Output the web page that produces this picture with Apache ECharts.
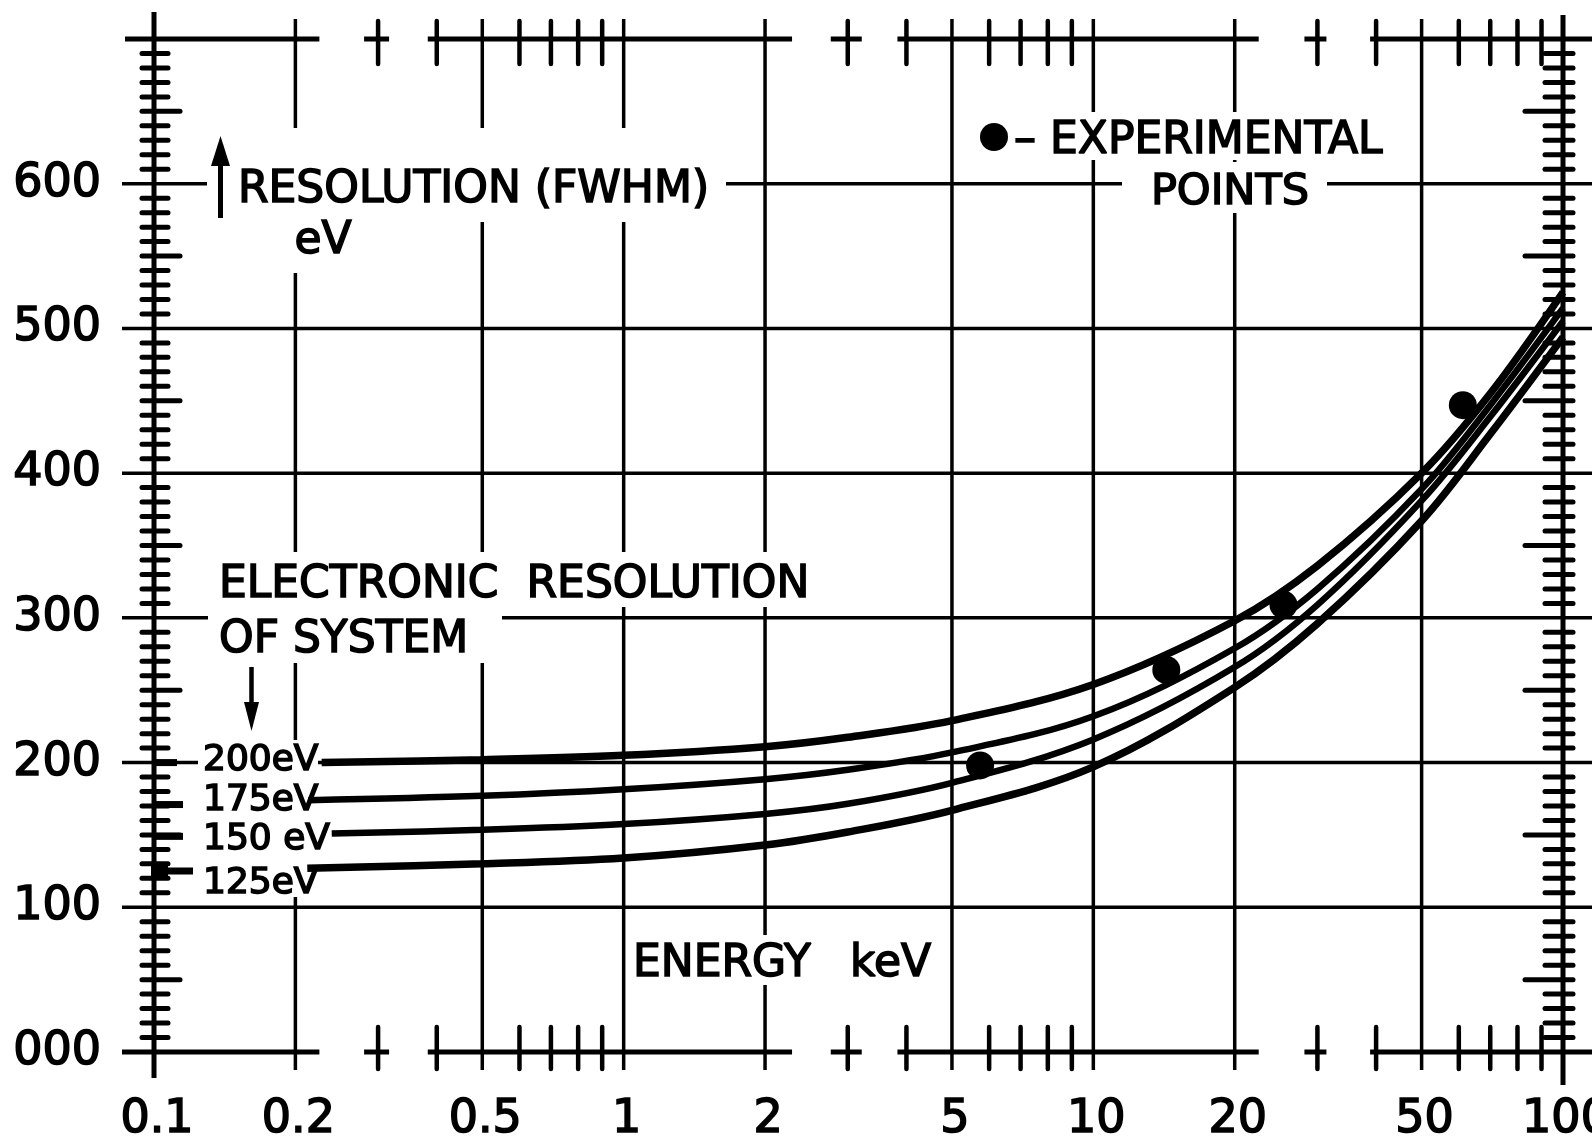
<!DOCTYPE html>
<html><head><meta charset="utf-8">
<script src="https://cdn.jsdelivr.net/npm/echarts@6/dist/echarts.min.js"></script>
<style>html,body{margin:0;padding:0;background:#fff}#c{width:1592px;height:1136px}</style>
</head><body><div id="c"></div>
<script>
// ---- data ----
const energyTickValues = [0.1, 0.2, 0.5, 1, 2, 5, 10, 20, 50, 100];
const energyTickLabels = ['0.1', '0.2', '0.5', '1', '2', '5', '10', '20', '50', '100'];
const energyMinorTicks = [0.3, 0.4, 0.6, 0.7, 0.8, 0.9, 3, 4, 6, 7, 8, 9, 30, 40, 60, 70, 80, 90];
const resolutionTicks = [0, 100, 200, 300, 400, 500, 600, 700];
const resolutionTickLabels = ['000', '100', '200', '300', '400', '500', '600', ''];

const energy200 = [0.2275, 0.5, 1, 2, 3, 5, 10, 20, 30, 50, 70, 100];
const res200    = [200, 202, 205, 211, 217.5, 229, 254, 298, 336, 400, 455, 525];
const energy175 = [0.213, 0.5, 1, 2, 3, 5, 10, 20, 30, 50, 70, 100];
const res175    = [174, 177, 181.5, 188.5, 195, 207, 232, 279, 320, 389, 447, 514];
const energy150 = [0.239, 0.5, 1, 2, 3, 5, 10, 20, 30, 50, 70, 100];
const res150    = [151, 153.5, 157.5, 164.5, 171.5, 186, 216, 266, 309, 381, 439, 505];
const energy125 = [0.212, 0.5, 1, 2, 3, 5, 10, 20, 30, 50, 70, 100];
const res125    = [127, 130, 134, 143, 152, 167, 197, 252, 296, 367, 427, 494];

const expEnergy = [5.74, 14.3, 25.4, 61.2];
const expRes    = [198, 264, 309, 447];

const electronicLevels = [200, 171, 149, 125];

// ---- drawing ----
const FONT = '"DejaVu Sans", "Liberation Sans", sans-serif';
const pairs = (xs, ys) => xs.map((x, i) => [x, ys[i]]);

// axis line pieces along top & bottom: [startValue, px offset, endValue(null = edge), px offset]
const axisPieces = [[0.1, -32, 0.2, 24], [0.3, -14, 0.3, 11], [0.4, -9, 2, 27], [3, -17, 3, 14],
                    [4, -9, 20, 24], [30, -13, 30, 9], [40, -6, null, 0]];

function frameItem(params, api) {
  const c = (x, y) => api.coord([x, y]);
  const W = api.getWidth();
  const xl = c(0.1, 0)[0], xr = c(100, 0)[0];
  const yb = c(0.1, 0)[1], yt = c(0.1, 700)[1];
  const kids = [];
  const line = (x1, y1, x2, y2, w, cap) => kids.push({type: 'line', shape: {x1, y1, x2, y2},
    style: {stroke: '#000', lineWidth: w, lineCap: cap || 'butt'}});
  energyTickValues.forEach((v, i) => {
    const x = c(v, 0)[0];
    if (i === 0) line(x, yt - 27, x, yb + 26, 5);
    else if (i === energyTickValues.length - 1) line(x, yt - 24, x, yb + 33, 5);
    else line(x, yt - 20, x, yb + 18, 3.5);
  });
  resolutionTicks.forEach(v => {
    if (v > 0 && v < 700) { const y = c(0.1, v)[1]; line(xl - 32, y, W, y, 3.5); }
  });
  axisPieces.forEach(p => {
    const a = c(p[0], 0)[0] + p[1];
    const b = p[2] === null ? W : c(p[2], 0)[0] + p[3];
    line(a, yb, b, yb, 5);
    line(a + (p[1] === -32 ? 3 : 0), yt, b, yt, 5);
  });
  energyMinorTicks.forEach(v => {
    const x = c(v, 0)[0];
    line(x, yb - 25, x, yb + 17, 4.5, 'round');
    line(x, yt - 18, x, yt + 25, 4.5, 'round');
  });
  for (let v = 10; v < 700; v += 10) {
    if (v % 100 === 0) continue;
    const y = c(0.1, v)[1];
    const big = v % 50 === 0;
    line(xl - 12, y, xl + (big ? 26 : 14), y, 5, 'round');
    line(xr - (big ? 38 : 18), y, xr + 10, y, 5, 'round');
  }
  electronicLevels.forEach((v, i) => {
    const y = c(0.1, v)[1];
    const len = i === 0 ? 23 : (i === electronicLevels.length - 1 ? 39 : 29);
    kids.push({type: 'rect', shape: {x: xl, y: y - 3.5, width: len, height: 7}, style: {fill: '#000'}});
    if (i === electronicLevels.length - 1)
      kids.push({type: 'rect', shape: {x: xl - 3, y: y - 8, width: 17, height: 16}, style: {fill: '#000'}});
  });
  energyTickValues.forEach((v, i) => {
    kids.push({type: 'text', style: {text: energyTickLabels[i], x: c(v, 0)[0] + 3, y: yb + 68,
      font: '46px ' + FONT, fill: '#000', stroke: '#000', lineWidth: 1.6,
      align: 'center', verticalAlign: 'middle'}});
  });
  return {type: 'group', children: kids};
}

const curveSeries = (data, w) => ({type: 'line', data, smooth: 0.35,
  symbol: 'none', showSymbol: false, lineStyle: {color: '#000', width: w, cap: 'butt'}, z: 5, silent: true});

const mask = (x, y, w, h) => ({type: 'rect', z: 3, silent: true, shape: {x, y, width: w, height: h}, style: {fill: '#fff'}});
const txt = (text, x, y, size, align) => ({type: 'text', z: 10, silent: true,
  style: {text, x, y: y + 5, font: size + 'px ' + FONT, fill: '#000', stroke: '#000', lineWidth: 1.6,
    align: align || 'left', verticalAlign: 'middle'}});

const chart = echarts.init(document.getElementById('c'), null, {renderer: 'canvas'});
chart.setOption({
  animation: false,
  backgroundColor: '#fff',
  grid: {left: 154, right: 29, top: 39, bottom: 84},
  xAxis: {type: 'log', logBase: 10, min: 0.1, max: 100,
    axisLine: {show: false}, axisTick: {show: false}, axisLabel: {show: false}, splitLine: {show: false}},
  yAxis: {type: 'value', min: 0, max: 700, interval: 100,
    axisLine: {show: false}, axisTick: {show: false}, splitLine: {show: false},
    axisLabel: {margin: 53, fontSize: 46, color: '#000', fontFamily: 'DejaVu Sans',
      textBorderColor: '#000', textBorderWidth: 1.6, padding: [10, 0, 0, 0],
      formatter: v => resolutionTickLabels[resolutionTicks.indexOf(v)]}},
  series: [
    {type: 'custom', renderItem: frameItem, data: [[1, 350]], clip: false, silent: true, z: 1},
    curveSeries(pairs(energy200, res200), 7.5),
    curveSeries(pairs(energy175, res175), 6.5),
    curveSeries(pairs(energy150, res150), 6.5),
    curveSeries(pairs(energy125, res125), 7.5),
    {type: 'scatter', data: pairs(expEnergy, expRes), symbol: 'circle', symbolSize: 28,
      itemStyle: {color: '#000', opacity: 1}, z: 6, silent: true}
  ],
  graphic: [
    // white gaps in the grid behind the lettering
    mask(207, 128, 519, 94),
    mask(285, 222, 80, 51),
    mask(975, 112, 425, 48),
    mask(1122, 162, 205, 51),
    mask(208, 552, 614, 55),
    mask(208, 607, 294, 56),
    mask(198, 740, 120, 157),
    mask(628, 935, 317, 50),
    // resolution axis title
    txt('RESOLUTION (FWHM)', 238, 186, 44),
    txt('eV', 323, 237, 44, 'center'),
    {type: 'line', z: 11, shape: {x1: 220.5, y1: 160, x2: 220.5, y2: 218}, style: {stroke: '#000', lineWidth: 5}},
    {type: 'polygon', z: 11, shape: {points: [[220.5, 136], [211, 166], [230, 166]]}, style: {fill: '#000'}},
    // legend
    {type: 'circle', z: 11, shape: {cx: 994, cy: 137, r: 14}, style: {fill: '#000'}},
    txt('– EXPERIMENTAL', 1014, 137, 44),
    txt('POINTS', 1230, 188, 43, 'center'),
    // electronic resolution note
    txt('ELECTRONIC  RESOLUTION', 219, 581, 44),
    txt('OF SYSTEM', 219, 636, 44),
    {type: 'line', z: 11, shape: {x1: 251.5, y1: 667, x2: 251.5, y2: 706}, style: {stroke: '#000', lineWidth: 4.5}},
    {type: 'polygon', z: 11, shape: {points: [[251.5, 731], [244, 702], [259, 702]]}, style: {fill: '#000'}},
    // curve labels
    txt('200eV', 203, 756, 36),
    txt('175eV', 203, 796, 36),
    txt('150 eV', 203, 835, 36),
    txt('125eV', 203, 879, 36),
    // energy axis title
    txt('ENERGY', 633, 960, 44),
    txt('keV', 850, 960, 44)
  ]
});
</script></body></html>
